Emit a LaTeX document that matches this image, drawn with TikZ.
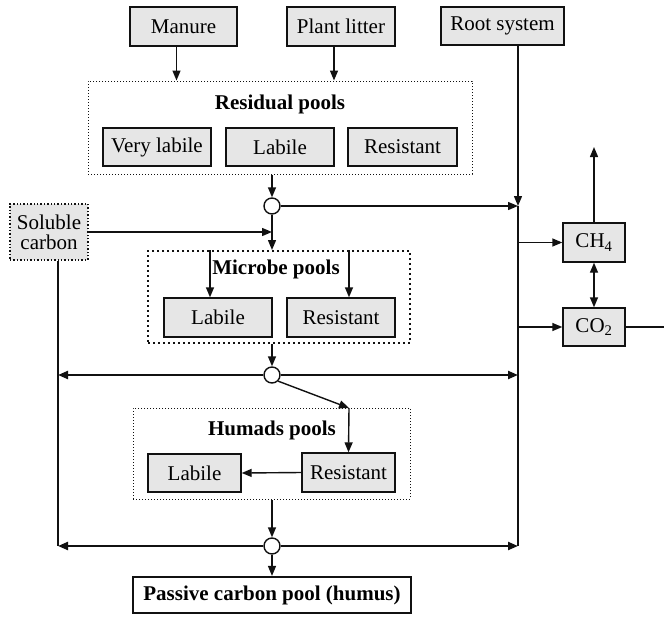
\documentclass[tikz,border=0pt]{standalone}
\usepackage{fontspec}
\newfontfamily\diagfont{Liberation Serif}
\usetikzlibrary{arrows.meta,positioning,calc}
\definecolor{ink}{HTML}{111111}
\definecolor{poolbg}{HTML}{E6E6E6}

\begin{document}
\begin{tikzpicture}[
  x=1pt,y=-1pt,
  font=\diagfont\fontsize{21}{24}\selectfont,
  box/.style={draw=ink,line width=1.4pt,fill=poolbg,inner sep=0pt,align=center},
  poolframe/.style={draw=ink,line width=1pt,dash pattern=on 1pt off 2pt,inner sep=0pt},
  poolname/.style={font=\diagfont\fontsize{21}{24}\selectfont\bfseries},
  junction/.style={circle,draw=ink,line width=1.4pt,fill=white,minimum size=16pt,inner sep=0pt},
  arr/.style={-{Triangle[length=10pt,width=8pt]},line width=1.4pt,draw=ink},
  busarr/.style={-{Triangle[length=10pt,width=8pt]},line width=2.2pt,draw=ink}
]
\useasboundingbox (0,0) rectangle (664,616);

% inputs
\node[box,minimum width=107pt,minimum height=39pt] (manure) at (183.5,26.5) {Manure};
\node[box,minimum width=108pt,minimum height=39pt] (litter) at (341,26.5) {Plant litter};
\node[box,minimum width=123pt,minimum height=38pt] (root) at (502.5,26) {Root system};

% residual pools
\node[poolframe,minimum width=384pt,minimum height=93pt] (residual) at (280,127.5) {};
\node[poolname] (restitle) at (280,104) {Residual pools};
\node[box,minimum width=108pt,minimum height=38pt] (resvlab) at (157,147) {Very labile};
\node[box,minimum width=108pt,minimum height=38pt] (reslab) at (280,147) {Labile};
\node[box,minimum width=109pt,minimum height=38pt] (resres) at (402.5,147) {Resistant};

\node[junction] (j1) at (272,206) {};
\node[box,dash pattern=on 1.4pt off 2pt,minimum width=78pt,minimum height=56pt] (soluble) at (49,232) {Soluble\\[-4pt]carbon};

% microbe pools
\node[poolframe,line width=2pt,dash pattern=on 2pt off 3pt,minimum width=262pt,minimum height=92pt] (microbe) at (279,297) {};
\node[poolname] (mictitle) at (276,269) {Microbe pools};
\node[box,minimum width=108pt,minimum height=39pt] (miclab) at (218,317.5) {Labile};
\node[box,minimum width=108pt,minimum height=39pt] (micres) at (341,317.5) {Resistant};

\node[junction] (j2) at (272,375) {};

% humads pools
\node[poolframe,minimum width=277pt,minimum height=91pt] (humads) at (271.5,453.5) {};
\node[poolname] (humtitle) at (272,430) {Humads pools};
\node[box,minimum width=93pt,minimum height=38pt] (humlab) at (194.5,473) {Labile};
\node[box,minimum width=93pt,minimum height=39pt] (humres) at (348.5,472.5) {Resistant};

\node[junction] (j3) at (272,546) {};
\node[box,fill=white,line width=2.2pt,minimum width=278pt,minimum height=36pt,font=\diagfont\fontsize{21}{24}\selectfont\bfseries] (passive) at (272,595) {Passive carbon pool (humus)};

% gases
\node[box,minimum width=62pt,minimum height=39pt] (ch4) at (594,242.5) {CH\textsubscript{4}};
\node[box,minimum width=62pt,minimum height=38pt] (co2) at (594,327) {CO\textsubscript{2}};

\coordinate (bustop) at (518,206);
\coordinate (busbot) at (518,546);
\coordinate (west1) at (58,375);
\coordinate (west2) at (58,546);
\coordinate (hcorner) at (349,408);
\coordinate (ch4out) at (594,147);
\coordinate (co2out) at (664,327);

% inputs to residual pools
\draw[arr] ([xshift=-7pt]manure.south) -- ([xshift=-7pt]manure.south |- residual.north);
\draw[arr] ([xshift=-7pt]litter.south) -- ([xshift=-7pt]litter.south |- residual.north);
\draw[arr] (bustop |- root.south) -- (bustop);

% residual to microbe
\draw[arr] (j1 |- residual.south) -- (j1.north);
\draw[arr] (j1.east) -- (bustop);
\draw[arr] (soluble.east) -- (j1 |- soluble.east);
\draw[arr] (j1.south) -- (j1 |- microbe.north);
\draw[arr] ([xshift=-8pt]miclab.north |- microbe.north) -- ([xshift=-8pt]miclab.north);
\draw[arr] ([xshift=8pt]micres.north |- microbe.north) -- ([xshift=8pt]micres.north);

% microbe to humads
\draw[arr] (j2 |- microbe.south) -- (j2.north);
\draw[busarr] (j2.west) -- (west1);
\draw[busarr] (j2.east) -- (bustop |- j2);
\draw[arr] (j2.south east) -- (hcorner);
\draw[arr] (hcorner) -- (humres.north);
\draw[arr] (humres.west) -- (humlab.east);

% humads to passive
\draw[arr] (j3 |- humads.south) -- (j3.north);
\draw[busarr] (j3.west) -- (west2);
\draw[busarr] (j3.east) -- (busbot);
\draw[arr] (j3.south) -- (passive.north);

% side lines
\draw[line width=1.4pt,draw=ink] (soluble.south -| west2) -- (west2);
\draw[line width=2.2pt,draw=ink] (bustop) -- (busbot);

% gases
\draw[arr] (bustop |- ch4.west) -- (ch4.west);
\draw[arr] (bustop |- co2.west) -- (co2.west);
\draw[arr] (ch4.north) -- (ch4out);
\draw[{Triangle[length=10pt,width=8pt]}-{Triangle[length=10pt,width=8pt]},line width=1.4pt,draw=ink] (ch4.south) -- (co2.north);
\draw[line width=2.2pt,draw=ink] (co2.east) -- (co2out);
\end{tikzpicture}
\end{document}
